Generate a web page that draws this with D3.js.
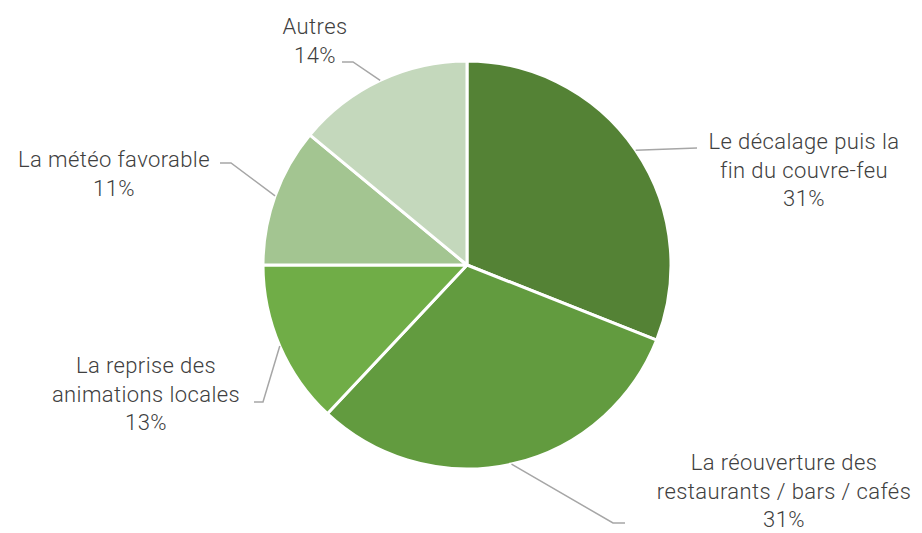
<!DOCTYPE html>
<html lang="fr">
<head>
<meta charset="utf-8">
<script src="https://d3js.org/d3.v7.min.js"></script>
<style>
  body { margin: 0; background: #fff; }
  svg text { font-family: Roboto, "Open Sans", sans-serif; fill: #404040; }
</style>
</head>
<body>
<div id="chart"></div>
<script>
// data
var categories = ["Le décalage puis la fin du couvre-feu", "La réouverture des restaurants / bars / cafés",
                  "La reprise des animations locales", "La météo favorable", "Autres"];
var values = [31, 31, 13, 11, 14];
var percentLabels = ["31%", "31%", "13%", "11%", "14%"];
var labelLines = [["Le décalage puis la", "fin du couvre-feu"],
                  ["La réouverture des", "restaurants / bars / cafés"],
                  ["La reprise des", "animations locales"],
                  ["La météo favorable"],
                  ["Autres"]];
var colors = ["#548235", "#629b3f", "#70ad47", "#a3c591", "#c4d8bc"];

// label layout (text centre x, first baseline y, leader elbow and end)
var labelPos = [
  {x: 804, y: 149, elbow: [697, 148], end: [697, 148]},
  {x: 784, y: 470, elbow: [613, 523], end: [625, 523]},
  {x: 146, y: 373, elbow: [263, 402], end: [254, 402]},
  {x: 114, y: 167, elbow: [231, 163], end: [220, 163]},
  {x: 315, y: 34, elbow: [353, 62], end: [342, 62]}
];

var width = 922, height = 533;
var cx = 467, cy = 265, radius = 204;
var lineHeight = 28.5;

var svg = d3.select("#chart").append("svg")
    .attr("width", width)
    .attr("height", height);

var pie = d3.pie().sort(null).value(function(d) { return d; });
var arc = d3.arc().innerRadius(0).outerRadius(radius);
var arcs = pie(values);

var g = svg.append("g").attr("transform", "translate(" + cx + "," + cy + ")");

g.selectAll("path.slice")
    .data(arcs)
    .enter().append("path")
    .attr("class", "slice")
    .attr("d", arc)
    .attr("fill", function(d, i) { return colors[i]; })
    .attr("stroke", "#fff")
    .attr("stroke-width", 3)
    .attr("stroke-linejoin", "round");

// leader lines
svg.selectAll("polyline.leader")
    .data(arcs)
    .enter().append("polyline")
    .attr("class", "leader")
    .attr("fill", "none")
    .attr("stroke", "#a6a6a6")
    .attr("stroke-width", 1.5)
    .attr("points", function(d, i) {
        var a = (d.startAngle + d.endAngle) / 2;
        var sx = cx + radius * Math.sin(a), sy = cy - radius * Math.cos(a);
        var p = labelPos[i];
        return [[sx, sy], p.elbow, p.end].map(function(q) { return q.join(","); }).join(" ");
    });

// labels
var labels = svg.selectAll("text.label")
    .data(arcs)
    .enter().append("text")
    .attr("class", "label")
    .attr("text-anchor", "middle")
    .style("font-size", "22px")
    .style("font-weight", 300)
    .style("letter-spacing", "0.4px")
    .attr("x", function(d, i) { return labelPos[i].x; })
    .attr("y", function(d, i) { return labelPos[i].y; });

labels.each(function(d, i) {
    var t = d3.select(this);
    var lines = labelLines[i].concat([percentLabels[i]]);
    lines.forEach(function(l, k) {
        t.append("tspan")
            .attr("x", labelPos[i].x)
            .attr("dy", k === 0 ? 0 : lineHeight)
            .text(l);
    });
});
</script>
</body>
</html>
